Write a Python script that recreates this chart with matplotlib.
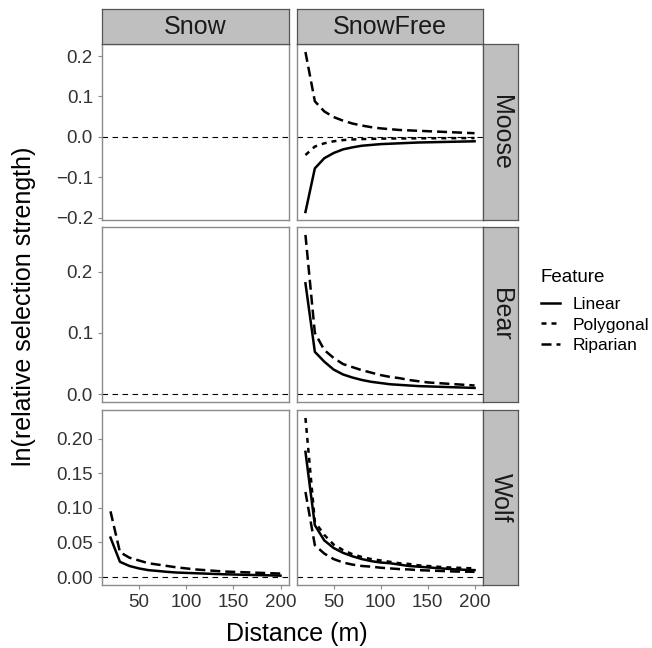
import matplotlib
matplotlib.use('Agg')
import matplotlib.pyplot as plt
from matplotlib.lines import Line2D

plt.rcParams['font.family'] = ['Liberation Sans', 'DejaVu Sans']

# distance from feature (m)
dist = [20, 30, 40, 50, 60, 70, 80, 90, 100, 110, 120, 130, 140, 150, 160, 170, 180, 190, 200]

species = ['Moose', 'Bear', 'Wolf']
seasons = ['Snow', 'SnowFree']
features = ['Linear', 'Polygonal', 'Riparian']

# Moose, snow free
moose_free_linear = [-0.186, -0.078, -0.053, -0.040, -0.031, -0.026, -0.022, -0.020, -0.018, -0.017,
                     -0.016, -0.015, -0.014, -0.0135, -0.013, -0.0125, -0.012, -0.0115, -0.011]
moose_free_polygonal = [-0.045, -0.024, -0.016, -0.011, -0.008, -0.0065, -0.0055, -0.005, -0.0045, -0.004,
                        -0.004, -0.0038, -0.0036, -0.0035, -0.0034, -0.0033, -0.0032, -0.0031, -0.003]
moose_free_riparian = [0.21, 0.088, 0.063, 0.049, 0.040, 0.033, 0.028, 0.024, 0.021, 0.019,
                       0.017, 0.016, 0.015, 0.014, 0.013, 0.012, 0.011, 0.010, 0.009]

# Bear, snow free
bear_free_linear = [0.181, 0.069, 0.053, 0.040, 0.032, 0.027, 0.023, 0.020, 0.018, 0.016,
                    0.015, 0.014, 0.013, 0.0125, 0.012, 0.0115, 0.011, 0.0105, 0.010]
bear_free_riparian = [0.26, 0.100, 0.072, 0.059, 0.049, 0.044, 0.039, 0.035, 0.031, 0.028,
                      0.026, 0.023, 0.021, 0.019, 0.018, 0.017, 0.016, 0.015, 0.014]

# Wolf, snow
wolf_snow_linear = [0.057, 0.022, 0.016, 0.0125, 0.010, 0.0088, 0.0075, 0.0065, 0.006, 0.0055,
                    0.005, 0.0045, 0.004, 0.0037, 0.0033, 0.003, 0.0027, 0.0024, 0.002]
wolf_snow_riparian = [0.095, 0.036, 0.028, 0.024, 0.020, 0.018, 0.016, 0.014, 0.0125, 0.011,
                      0.010, 0.009, 0.008, 0.0075, 0.007, 0.0065, 0.006, 0.0055, 0.005]

# Wolf, snow free
wolf_free_linear = [0.181, 0.075, 0.053, 0.042, 0.035, 0.030, 0.026, 0.023, 0.021, 0.020,
                    0.018, 0.016, 0.015, 0.014, 0.013, 0.012, 0.011, 0.0105, 0.010]
wolf_free_polygonal = [0.230, 0.080, 0.061, 0.047, 0.039, 0.033, 0.029, 0.026, 0.024, 0.022,
                       0.020, 0.019, 0.017, 0.016, 0.015, 0.014, 0.0135, 0.013, 0.0125]
wolf_free_riparian = [0.123, 0.046, 0.034, 0.026, 0.021, 0.018, 0.016, 0.015, 0.0135, 0.0125,
                      0.0115, 0.011, 0.010, 0.0095, 0.009, 0.0085, 0.008, 0.0078, 0.0075]

curves = {
    ('Moose', 'Snow'): [],
    ('Moose', 'SnowFree'): [('Linear', moose_free_linear), ('Polygonal', moose_free_polygonal),
                            ('Riparian', moose_free_riparian)],
    ('Bear', 'Snow'): [],
    ('Bear', 'SnowFree'): [('Linear', bear_free_linear), ('Riparian', bear_free_riparian)],
    ('Wolf', 'Snow'): [('Linear', wolf_snow_linear), ('Riparian', wolf_snow_riparian)],
    ('Wolf', 'SnowFree'): [('Linear', wolf_free_linear), ('Polygonal', wolf_free_polygonal),
                           ('Riparian', wolf_free_riparian)],
}

yticks = {'Moose': [-0.2, -0.1, 0.0, 0.1, 0.2],
          'Bear': [0.0, 0.1, 0.2],
          'Wolf': [0.00, 0.05, 0.10, 0.15, 0.20]}
yfmt = {'Moose': '{:.1f}', 'Bear': '{:.1f}', 'Wolf': '{:.2f}'}
xticks = [50, 100, 150, 200]

styles = {'Linear': '-', 'Polygonal': (0, (2, 2)), 'Riparian': (0, (4, 2))}

W, H = 652, 648
fig = plt.figure(figsize=(W / 100, H / 100), dpi=100)


def box(l, t, r, b):
    return [l / W, 1 - b / H, (r - l) / W, (b - t) / H]


cols = [(102, 289), (297, 483)]
rows = [(44, 220), (227, 402), (410, 585)]
strip_fill = '#bfbfbf'
strip_edge = '#555555'
border = '#8a8a8a'
tick_col = '#333333'

for i, sp in enumerate(species):
    vals = [0.0]
    for se in seasons:
        for f, v in curves[(sp, se)]:
            vals += v
    lo, hi = min(vals), max(vals)
    pad = (hi - lo) * 0.05
    for j, se in enumerate(seasons):
        ax = fig.add_axes(box(cols[j][0], rows[i][0], cols[j][1], rows[i][1]))
        ax.axhline(0, color='black', lw=0.8, ls=(0, (5, 4)))
        for f, v in curves[(sp, se)]:
            ax.plot(dist, v, color='black', lw=1.8, ls=styles[f])
        ax.set_xlim(11, 209)
        ax.set_ylim(lo - pad, hi + pad)
        for s in ax.spines.values():
            s.set_color(border)
            s.set_linewidth(1.0)
        ax.tick_params(colors=border, labelcolor=tick_col, labelsize=13.5, length=3, width=0.8)
        ax.set_xticks(xticks)
        ax.set_yticks(yticks[sp])
        if j == 0:
            ax.set_yticklabels([yfmt[sp].format(t).replace('-', '\u2212') for t in yticks[sp]])
        else:
            ax.tick_params(axis='y', left=False, labelleft=False)
        if i < 2:
            ax.tick_params(axis='x', bottom=False, labelbottom=False)
        if i == 0:
            st = fig.add_axes(box(cols[j][0], 9, cols[j][1], 44))
            st.set_facecolor(strip_fill)
            st.set_xticks([])
            st.set_yticks([])
            for s in st.spines.values():
                s.set_color(strip_edge)
                s.set_linewidth(0.9)
            st.text(0.5, 0.48, se, ha='center', va='center', fontsize=18, color='#1a1a1a',
                    transform=st.transAxes)
    st = fig.add_axes(box(483, rows[i][0], 518, rows[i][1]))
    st.set_facecolor(strip_fill)
    st.set_xticks([])
    st.set_yticks([])
    for s in st.spines.values():
        s.set_color(strip_edge)
        s.set_linewidth(0.9)
    st.text(0.5, 0.5, sp, ha='center', va='center', fontsize=18, rotation=-90, color='#1a1a1a',
            transform=st.transAxes)

fig.text(297 / W, 1 - 634 / H, 'Distance (m)', ha='center', va='center', fontsize=18)
fig.text(24 / W, 1 - 306 / H, 'ln(relative selection strength)', ha='center', va='center',
         fontsize=18, rotation=90)

# legend title placed on its own, ggplot leaves a bigger gap under it
fig.text(541 / W, 1 - 277 / H, 'Feature', ha='left', va='center', fontsize=13.5)
handles = [Line2D([], [], color='black', lw=1.8, ls=styles[f]) for f in features]
leg = fig.legend(handles, features, loc='upper left',
                 bbox_to_anchor=(541 / W, 1 - 297 / H), frameon=False, fontsize=12.5,
                 handlelength=1.1, handletextpad=0.7, labelspacing=0.3,
                 borderpad=0, borderaxespad=0)

fig.savefig('out.png', dpi=100)
